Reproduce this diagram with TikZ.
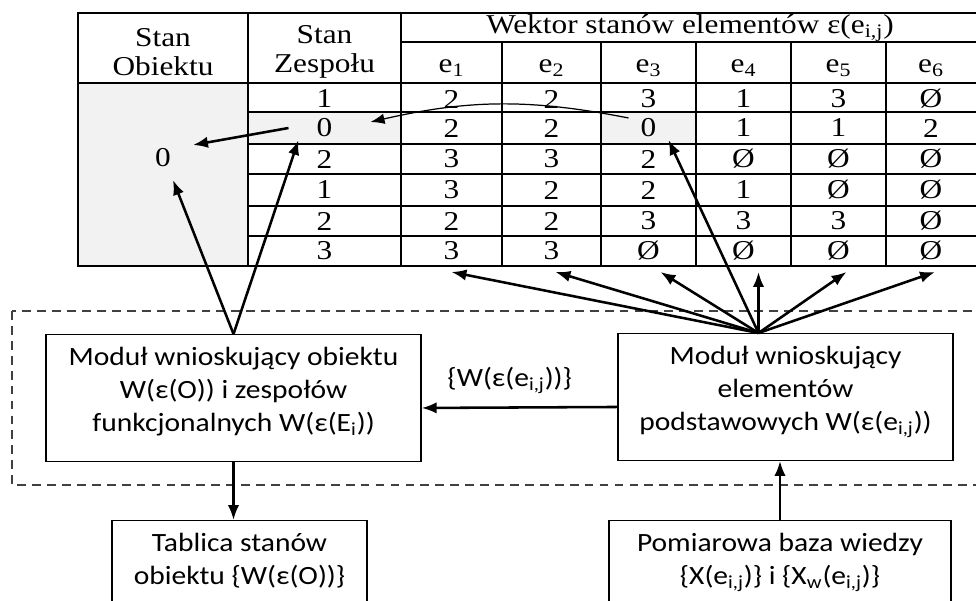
\documentclass[tikz,border=0pt]{standalone}
\usepackage{fontspec}
\setmainfont{Liberation Serif}
\newfontfamily\tabfont[FakeStretch=1.15]{Liberation Serif}
\newfontfamily\boxfont[FakeStretch=1.12]{Carlito}
\usepackage{tikz}
\usetikzlibrary{arrows.meta, calc}
\definecolor{cellGray}{RGB}{242,242,242}
\newcommand{\lowstrut}[1]{\rule[-#1]{0pt}{#1}}

\begin{document}
\begin{tikzpicture}[x=0.02cm, y=-0.02cm,
    cell/.style={font=\tabfont\fontsize{15.5}{16.5}\selectfont, inner sep=0pt, align=center},
    box/.style={draw, line width=0.8pt, anchor=north, align=center, inner xsep=4pt, inner ysep=7pt, font=\boxfont\fontsize{15}{18.8}\selectfont},
    lbl/.style={font=\boxfont\fontsize{15}{18.8}\selectfont},
    tabline/.style={line width=0.95pt},
    arrow/.style={-{Latex[length=8.5pt,width=6.5pt]}, line width=1.45pt},
    thinarrow/.style={-{Latex[length=8pt,width=6pt]}, line width=0.7pt},
    frame/.style={dashed, dash pattern=on 5pt off 3.5pt, line width=0.7pt, black!75}
]
\useasboundingbox (0,0) rectangle (976,601);
\clip (0,0) rectangle (976,601);

\fill[cellGray] (78,83) rectangle (248,266);
\fill[cellGray] (248,112) rectangle (401,144);
\fill[cellGray] (601,112) rectangle (696,144);

\draw[tabline] (980,13) -- (78,13) -- (78,266) -- (980,266);
\draw[tabline] (78,83) -- (980,83) (401,42) -- (980,42);
\foreach \x in {248,401} \draw[tabline] (\x,13) -- (\x,266);
\foreach \x in {502,601,696,791,886} \draw[tabline] (\x,42) -- (\x,266);
\foreach \y in {112,144,174,206,236} \draw[tabline] (248,\y) -- (980,\y);

\node[cell] (hObj) at (163,52) {Stan\\Obiektu};
\node[cell] (hZes) at (324.5,52) {Stan\\Zespołu};
\node[cell] (hVec) at (690,28) {Wektor stanów elementów ε(e\textsubscript{i,j})};
\foreach \c/\x in {1/451.5,2/551.5,3/648.5,4/743.5,5/838.5,6/931}
  \node[cell] (e\c) at (\x,68) {e\textsubscript{\c}};

\def\colx{{324.5,451.5,551.5,648.5,743.5,838.5,931}}
\def\rowy{{99,128,159,190,221,251}}
\foreach \vals [count=\r] in {{1,2,2,3,1,3,Ø},{0,2,2,0,1,1,2},{2,3,3,2,Ø,Ø,Ø},{1,3,2,2,1,Ø,Ø},{2,2,2,3,3,3,Ø},{3,3,3,Ø,Ø,Ø,Ø}}
  \foreach \v [count=\c] in \vals {
    \pgfmathsetmacro\cx{\colx[\c-1]}
    \pgfmathsetmacro\cy{\rowy[\r-1]}
    \node[cell] (v-\r-\c) at (\cx,\cy) {\v};
  }
\node[cell] (obj) at (163,158) {0};

\draw[frame] (12,311) rectangle (990,485);

\node[box, minimum width=7.5cm] (modO) at (233.5,334) {Moduł wnioskujący obiektu\\W(ε(O)) i zespołów\\funkcjonalnych W(ε(E\textsubscript{i}))\lowstrut{10pt}};
\node[box, minimum width=6.7cm] (modE) at (785.5,333) {Moduł wnioskujący\\elementów\\podstawowych W(ε(e\textsubscript{i,j}))\lowstrut{10pt}};
\node[box, minimum width=5.1cm] (tab) at (239.5,520) {Tablica stanów\\obiektu \{W(ε(O))\}\lowstrut{40pt}};
\node[box, minimum width=6.84cm] (pom) at (780,520) {Pomiarowa baza wiedzy\\\{X(e\textsubscript{i,j})\} i \{X\textsubscript{w}(e\textsubscript{i,j})\}\lowstrut{40pt}};

\draw[arrow] ($(v-2-1)+(-36,0)$) -- ($(obj)+(30,-13)$);
\draw[thinarrow] ($(v-2-4)+(-20,-10)$) to[bend right=12] ($(v-2-1)+(46,-6)$);
\draw[arrow] (modO.north) -- ($(obj)+(10,22)$);
\draw[arrow] (modO.north) -- ($(v-2-1)+(-26,12)$);

\coordinate (fan) at ($(modE.north)+(-27,0)$);
\draw[arrow] (fan) -- ($(v-2-4)+(20,12)$);
\foreach \c/\dx in {2/0,3/4,4/12,5/15,6/8,7/4}
  \draw[arrow] (fan) -- ($(v-6-\c)+(\dx,21)$);

\draw[arrow] ($(modE.west)+(0,10)$) -- node[lbl, pos=0.55, above=4pt] (lblW) {\{W(ε(e\textsubscript{i,j}))\}} ($(modO.east)+(0,10)$);
\draw[arrow] (modO.south) -- (modO.south |- tab.north);
\draw[arrow] (pom.north) -- (pom.north |- modE.south);
\end{tikzpicture}
\end{document}
